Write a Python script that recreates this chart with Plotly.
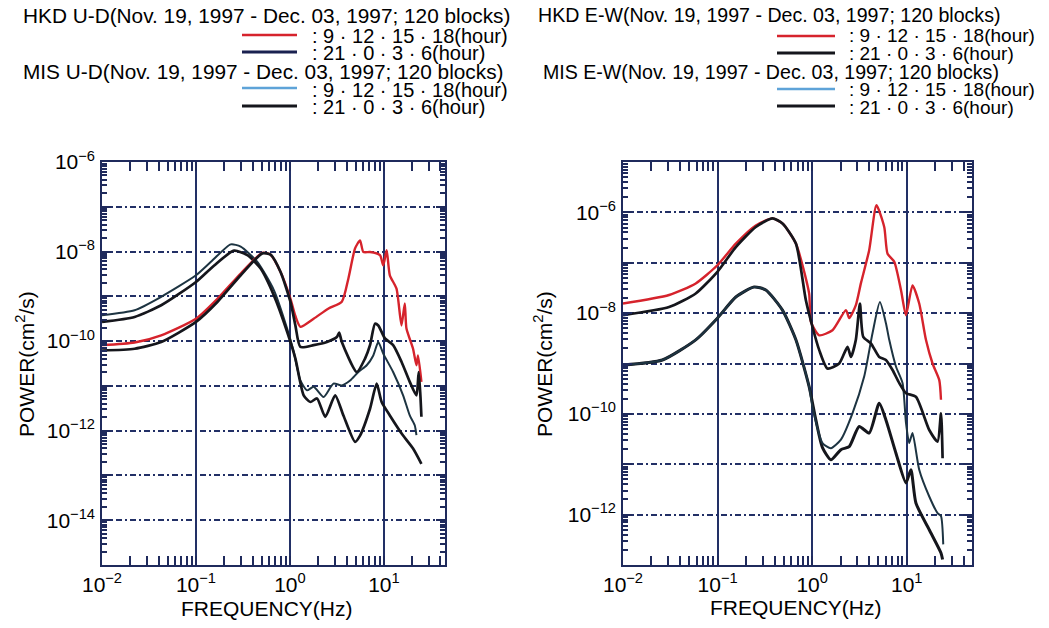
import plotly.graph_objects as go

# ---------------- DATA (log10 values) ----------------
# Left panel: U-D component
ud_hkd_day_logf = [-2.0, -1.653, -1.370, -1.0, -0.770, -0.524, -0.294, -0.206, -0.101, 0.005, 0.058, 0.111,
                   0.252, 0.411, 0.552, 0.622, 0.693, 0.746, 0.781, 0.852, 0.958, 0.993, 1.029, 1.063,
                   1.134, 1.187, 1.222, 1.240, 1.310, 1.346, 1.363, 1.399]
ud_hkd_day_logp = [-10.09, -10.03, -9.87, -9.50, -9.05, -8.49, -8.03, -8.07, -8.45, -9.05, -9.44, -9.68,
                   -9.50, -9.27, -9.12, -8.60, -7.93, -7.75, -8.01, -8.01, -8.08, -8.31, -7.97, -8.53,
                   -8.83, -9.65, -9.16, -9.72, -10.17, -10.54, -10.32, -10.91]

ud_hkd_night_logf = [-2.0, -1.653, -1.370, -1.0, -0.770, -0.524, -0.294, -0.206, -0.101, 0.005, 0.058, 0.111,
                     0.252, 0.394, 0.499, 0.524, 0.552, 0.711, 0.799, 0.852, 0.905, 0.940, 1.011, 1.098,
                     1.187, 1.275, 1.346, 1.370, 1.388, 1.399]
ud_hkd_night_logp = [-10.21, -10.17, -10.02, -9.57, -9.12, -8.53, -8.04, -8.07, -8.45, -9.12, -9.65, -10.13,
                     -10.09, -10.02, -9.91, -9.81, -10.02, -10.69, -10.39, -10.09, -9.61, -9.65, -9.94, -10.09,
                     -10.46, -10.91, -11.21, -10.69, -11.21, -11.69]

ud_mis_day_logf = [-2.0, -1.653, -1.370, -1.0, -0.841, -0.630, -0.524, -0.347, -0.171, -0.030, 0.040, 0.111,
                   0.182, 0.252, 0.358, 0.463, 0.552, 0.640, 0.728, 0.817, 0.887, 0.940, 0.993, 1.098,
                   1.204, 1.275, 1.328, 1.346]
ud_mis_day_logp = [-9.42, -9.31, -9.01, -8.53, -8.23, -7.84, -7.89, -8.23, -8.86, -9.72, -10.24, -10.88,
                   -11.10, -11.02, -11.25, -10.95, -10.99, -10.88, -10.69, -10.54, -10.32, -10.02, -10.28, -10.69,
                   -11.21, -11.66, -11.88, -12.10]

ud_mis_night_logf = [-2.0, -1.653, -1.370, -1.0, -0.806, -0.595, -0.453, -0.312, -0.171, -0.030, 0.058, 0.146,
                     0.217, 0.288, 0.376, 0.481, 0.569, 0.693, 0.746, 0.852, 0.923, 0.976, 1.063, 1.204,
                     1.310, 1.399]
ud_mis_night_logp = [-9.57, -9.46, -9.20, -8.68, -8.31, -7.98, -8.08, -8.38, -8.98, -9.79, -10.39, -11.21,
                     -11.36, -11.28, -11.69, -11.21, -11.66, -12.25, -12.11, -11.51, -10.95, -11.36, -11.66, -12.11,
                     -12.40, -12.74]

# Right panel: E-W component
ew_hkd_day_logf = [-2.0, -1.513, -1.231, -1.002, -0.807, -0.596, -0.420, -0.314, -0.172, -0.032, -0.014, 0.074,
                   0.215, 0.357, 0.392, 0.462, 0.515, 0.603, 0.680, 0.762, 0.797, 0.868, 0.939, 0.992,
                   1.061, 1.132, 1.203, 1.273, 1.344, 1.362]
ew_hkd_day_logp = [-7.81, -7.64, -7.41, -7.05, -6.62, -6.26, -6.12, -6.22, -6.62, -7.61, -8.17, -8.44,
                   -8.34, -7.94, -8.10, -7.84, -7.41, -6.75, -5.86, -6.29, -6.82, -6.98, -7.54, -8.04,
                   -7.45, -7.81, -8.53, -9.00, -9.33, -9.72]

ew_hkd_night_logf = [-2.0, -1.513, -1.231, -1.002, -0.807, -0.596, -0.420, -0.314, -0.172, -0.067, 0.003, 0.074,
                     0.162, 0.286, 0.374, 0.410, 0.462, 0.505, 0.540, 0.621, 0.709, 0.780, 0.850, 0.921,
                     0.992, 1.097, 1.238, 1.326, 1.362, 1.379]
ew_hkd_night_logp = [-8.04, -7.88, -7.61, -7.18, -6.69, -6.29, -6.12, -6.22, -6.62, -7.74, -8.27, -8.73,
                     -9.10, -9.00, -8.67, -8.87, -8.53, -7.81, -8.47, -8.60, -8.87, -8.93, -9.13, -9.39,
                     -9.59, -9.66, -10.32, -10.55, -9.99, -10.88]

ew_mis_day_logf = [-2.0, -1.584, -1.231, -1.002, -0.807, -0.614, -0.490, -0.314, -0.172, -0.032, 0.003, 0.109,
                   0.198, 0.304, 0.426, 0.550, 0.638, 0.716, 0.780, 0.815, 0.886, 0.956, 0.992, 1.026,
                   1.061, 1.132, 1.238, 1.326, 1.362, 1.386]
ew_mis_day_logp = [-9.03, -8.93, -8.53, -8.10, -7.68, -7.48, -7.54, -7.94, -8.53, -9.46, -9.86, -10.58,
                   -10.68, -10.51, -9.99, -9.26, -8.40, -7.78, -8.20, -8.53, -9.06, -9.39, -10.18, -10.58,
                   -10.38, -11.11, -11.64, -11.97, -12.03, -12.59]

ew_mis_night_logf = [-2.0, -1.584, -1.231, -1.002, -0.807, -0.614, -0.490, -0.314, -0.172, -0.032, 0.039, 0.109,
                     0.198, 0.304, 0.392, 0.497, 0.603, 0.709, 0.780, 0.886, 0.992, 1.044, 1.097, 1.238,
                     1.362, 1.379]
ew_mis_night_logp = [-9.03, -8.93, -8.53, -8.10, -7.68, -7.48, -7.54, -7.94, -8.53, -9.46, -10.12, -10.67,
                     -10.91, -10.71, -10.65, -10.25, -10.38, -9.79, -10.12, -10.78, -11.37, -11.11, -11.77, -12.30,
                     -12.76, -12.89]

ud_title_hkd = "HKD U-D(Nov. 19, 1997 - Dec. 03, 1997; 120 blocks)"
ud_title_mis = "MIS U-D(Nov. 19, 1997 - Dec. 03, 1997; 120 blocks)"
ew_title_hkd = "HKD E-W(Nov. 19, 1997 - Dec. 03, 1997; 120 blocks)"
ew_title_mis = "MIS E-W(Nov. 19, 1997 - Dec. 03, 1997; 120 blocks)"
day_label = ": 9 · 12 · 15 · 18(hour)"
night_label = ": 21 · 0 · 3 · 6(hour)"

x_tickvals = [0.01, 0.1, 1, 10]
x_ticktext = ["10<sup>−2</sup>", "10<sup>−1</sup>", "10<sup>0</sup>", "10<sup>1</sup>"]
ud_grid_exps = [-14, -13, -12, -11, -10, -9, -8, -7, -6]
ud_label_exps = [-14, -12, -10, -8, -6]
ew_grid_exps = [-12, -11, -10, -9, -8, -7, -6]
ew_label_exps = [-12, -10, -8, -6]

# ---------------- STYLE ----------------
W, H = 1049, 628
FONT = "Liberation Sans, Arial, sans-serif"
RED = "#d6232c"
BLACK = "#15161c"
MISDAY = "#1d3442"
GRID = "#223066"
NAVY = "#1f2a5c"


def pw(v):
    return [10 ** x for x in v]


fig = go.Figure()

def add(lf, lp, color, width, xa, ya):
    fig.add_trace(go.Scatter(x=pw(lf), y=pw(lp), mode="lines",
                             line=dict(color=color, width=width, shape="spline", smoothing=0.6),
                             xaxis=xa, yaxis=ya, hoverinfo="skip"))

# left panel
add(ud_mis_day_logf, ud_mis_day_logp, MISDAY, 2.0, "x", "y")
add(ud_mis_night_logf, ud_mis_night_logp, BLACK, 2.7, "x", "y")
add(ud_hkd_day_logf, ud_hkd_day_logp, RED, 2.4, "x", "y")
add(ud_hkd_night_logf, ud_hkd_night_logp, BLACK, 2.7, "x", "y")
# right panel
add(ew_mis_night_logf, ew_mis_night_logp, BLACK, 3.0, "x2", "y2")
add(ew_mis_day_logf, ew_mis_day_logp, MISDAY, 2.0, "x2", "y2")
add(ew_hkd_day_logf, ew_hkd_day_logp, RED, 2.4, "x2", "y2")
add(ew_hkd_night_logf, ew_hkd_night_logp, BLACK, 2.7, "x2", "y2")

# empty traces so that the overlaying label axes are drawn
fig.add_trace(go.Scatter(x=[], y=[], xaxis="x", yaxis="y3", hoverinfo="skip"))
fig.add_trace(go.Scatter(x=[], y=[], xaxis="x2", yaxis="y4", hoverinfo="skip"))

MINOR = dict(ticks="inside", ticklen=5, tickcolor=NAVY, tickwidth=1.5, dtick="D1", showgrid=False)


def xaxis(domain, rng, anchor):
    return dict(type="log", domain=domain, range=rng, anchor=anchor, automargin=False,
                tickmode="array", tickvals=x_tickvals, ticktext=x_ticktext,
                ticks="inside", ticklen=9, tickwidth=2, tickcolor=NAVY,
                showline=True, linecolor=NAVY, linewidth=2.2, mirror="allticks",
                showgrid=True, gridcolor=GRID, gridwidth=1.5,
                minor=MINOR,
                tickfont=dict(family=FONT, size=21, color="black"),
                zeroline=False, fixedrange=True)


def yaxis(domain, rng, anchor, exps):
    return dict(type="log", domain=domain, range=rng, anchor=anchor, automargin=False,
                tickmode="array", tickvals=[10 ** e for e in exps], showticklabels=False,
                ticks="inside", ticklen=9, tickwidth=2, tickcolor=NAVY,
                showline=True, linecolor=NAVY, linewidth=2.2, mirror="allticks",
                showgrid=True, gridcolor=GRID, gridwidth=1.5, griddash="6px,3px,2px,3px",
                minor=MINOR, zeroline=False, fixedrange=True)


def ylabels(domain, rng, anchor, overlay, exps):
    return dict(type="log", domain=domain, range=rng, anchor=anchor, overlaying=overlay,
                automargin=False, side="left",
                tickmode="array", tickvals=[10 ** e for e in exps],
                ticktext=["10<sup>−%d</sup>" % -e for e in exps],
                ticks="", showline=False, showgrid=False, zeroline=False, fixedrange=True,
                ticklabelstandoff=6,
                tickfont=dict(family=FONT, size=21, color="black"))


ydom = [(H - 565) / H, (H - 162) / H]
fig.update_layout(
    width=W, height=H, autosize=False,
    margin=dict(l=0, r=0, t=0, b=0, pad=0, autoexpand=False),
    paper_bgcolor="white", plot_bgcolor="white", showlegend=False,
    xaxis=xaxis([102 / W, 445 / W], [-2, 1.65], "y"),
    yaxis=yaxis(ydom, [-15, -6], "x", ud_grid_exps),
    xaxis2=xaxis([623 / W, 972 / W], [-2, 1.69], "y2"),
    yaxis2=yaxis(ydom, [-13, -5], "x2", ew_grid_exps),
    yaxis3=ylabels(ydom, [-15, -6], "x", "y", ud_label_exps),
    yaxis4=ylabels(ydom, [-13, -5], "x2", "y2", ew_label_exps),
)

ann = []
shapes = []

def txt(x, y, s, size, xanchor="left", angle=0):
    ann.append(dict(x=x / W, y=1 - y / H, xref="paper", yref="paper", text=s, showarrow=False,
                    xanchor=xanchor, yanchor="middle", textangle=angle, borderpad=0,
                    font=dict(family=FONT, size=size, color="black")))

def seg(x0, x1, y, color, width):
    shapes.append(dict(type="line", xref="paper", yref="paper", x0=x0 / W, x1=x1 / W,
                       y0=1 - y / H, y1=1 - y / H, line=dict(color=color, width=width)))

# left header
txt(22, 15, ud_title_hkd, 20.8)
seg(242, 297, 35, RED, 2.5); txt(311, 36, day_label, 20)
seg(242, 297, 52, "#1a2150", 3); txt(311, 53, night_label, 20)
txt(22, 72, ud_title_mis, 20.8)
seg(242, 297, 88, "#5ea3d8", 2.5); txt(311, 90, day_label, 20)
seg(242, 297, 106, BLACK, 3); txt(311, 107, night_label, 20)
# right header
txt(537, 15, ew_title_hkd, 19.6)
seg(777, 835, 36, RED, 2.5); txt(848, 36, day_label, 19)
seg(777, 835, 53, BLACK, 3); txt(848, 53, night_label, 19)
txt(542, 72, ew_title_mis, 19.6)
seg(777, 835, 89, "#5ea3d8", 2.5); txt(848, 90, day_label, 19)
seg(777, 835, 106, BLACK, 3); txt(848, 107, night_label, 19)

# axis titles
txt(267, 608, "FREQUENCY(Hz)", 21, xanchor="center")
txt(796, 607, "FREQUENCY(Hz)", 21, xanchor="center")
txt(25, 364, "POWER(cm<sup>2</sup>/s)", 21, xanchor="center", angle=-90)
txt(543, 364, "POWER(cm<sup>2</sup>/s)", 21, xanchor="center", angle=-90)

fig.update_layout(annotations=ann, shapes=shapes)
fig.write_html("out.html")
